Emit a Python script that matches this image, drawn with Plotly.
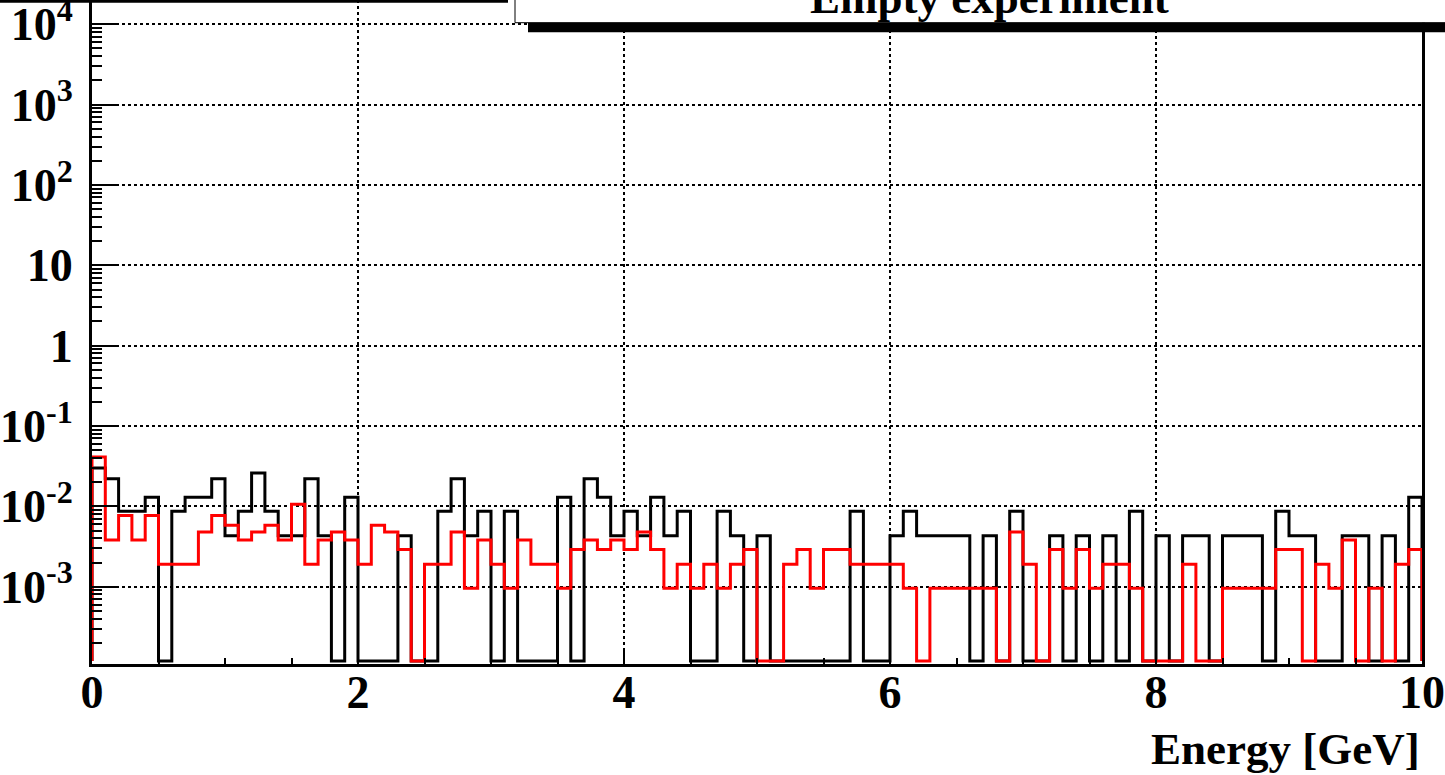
import numpy as np
import plotly.graph_objects as go

# ---------------- data ----------------
x_min, x_max, n_bins = 0.0, 10.0, 100

black_vals = [
    0.030, 0.022, 0.0087, 0.0087, 0.013, 0, 0.0087, 0.013, 0.013, 0.022,
    0.0043, 0.0087, 0.026, 0.0087, 0.0043, 0.0043, 0.022, 0.0043, 0, 0.013,
    0, 0, 0, 0.0043, 0, 0, 0.0087, 0.022, 0.0043, 0.0087,
    0, 0.0087, 0, 0, 0, 0.013, 0, 0.022, 0.013, 0.0043,
    0.0087, 0.0043, 0.013, 0.0043, 0.0087, 0, 0, 0.0087, 0.0043, 0,
    0.0043, 0, 0, 0, 0, 0, 0, 0.0087, 0, 0,
    0.0043, 0.0087, 0.0043, 0.0043, 0.0043, 0.0043, 0, 0.0043, 0, 0.0087,
    0, 0, 0.0043, 0, 0.0043, 0, 0.0043, 0, 0.0087, 0,
    0.0043, 0, 0.0043, 0.0043, 0, 0.0043, 0.0043, 0.0043, 0, 0.0087,
    0.0043, 0.0043, 0, 0, 0.0043, 0.0043, 0, 0.0043, 0, 0.013,
]

red_vals = [
    0.041, 0.0038, 0.0077, 0.0038, 0.0077, 0.0019, 0.0019, 0.0019, 0.0048, 0.0077,
    0.0058, 0.0038, 0.0048, 0.0058, 0.0038, 0.0106, 0.0019, 0.0038, 0.0048, 0.0038,
    0.0019, 0.0058, 0.0048, 0.0029, 0, 0.0019, 0.0019, 0.0048, 0.00096, 0.0038,
    0.0019, 0.00096, 0.0038, 0.0019, 0.0019, 0.00096, 0.0029, 0.0038, 0.0029, 0.0038,
    0.0029, 0.0048, 0.0029, 0.00096, 0.0019, 0.00096, 0.0019, 0.00096, 0.0019, 0.0029,
    0, 0, 0.0019, 0.0029, 0.00096, 0.0029, 0.0029, 0.0019, 0.0019, 0.0019,
    0.0019, 0.00096, 0, 0.00096, 0.00096, 0.00096, 0.00096, 0.00096, 0, 0.0048,
    0.0019, 0, 0.0029, 0.00096, 0.0029, 0.00096, 0.0019, 0.0019, 0.00096, 0,
    0, 0, 0.0019, 0, 0, 0.00096, 0.00096, 0.00096, 0.00096, 0.0029,
    0.0029, 0, 0.0019, 0.00096, 0.0038, 0, 0.00096, 0, 0.0019, 0.0029,
]

x_tick_vals = [0, 2, 4, 6, 8, 10]
x_tick_text = ["0", "2", "4", "6", "8", "10"]
y_tick_vals = [1e-3, 1e-2, 1e-1, 1, 10, 100, 1e3, 1e4]
y_tick_text = ["10<sup>-3</sup>", "10<sup>-2</sup>", "10<sup>-1</sup>", "1", "10",
               "10<sup>2</sup>", "10<sup>3</sup>", "10<sup>4</sup>"]

title_text = "Empty experiment"
x_title = "Energy [GeV]"

# ---------------- layout geometry ----------------
W, H = 1445, 775
ML, MR, MT, MB = 92, 23, 0, 111
PW, PH = W - ML - MR, H - MT - MB
y_log_min, y_log_max = -3.962, 4.302
floor_val = 10 ** (y_log_min + 0.037)

edges = np.linspace(x_min, x_max, n_bins + 1)


def step_xy(vals):
    v = [val if val > 0 else floor_val for val in vals]
    xs = [edges[0]] + list(edges[:-1]) + [edges[-1], edges[-1]]
    ys = [floor_val] + v + [v[-1], floor_val]
    return xs, ys


FONT = "Liberation Serif, Times New Roman, serif"

fig = go.Figure()
for vals, col in [(black_vals, "black"), (red_vals, "#ff0000")]:
    xs, ys = step_xy(vals)
    fig.add_trace(go.Scatter(x=xs, y=ys, mode="lines", line_shape="hv",
                             line=dict(color=col, width=3), showlegend=False,
                             hoverinfo="skip"))


def px2px(px):
    return (px - ML) / PW


def py2py(py):
    return (H - MB - py) / PH


shapes = [
    # strip at top-left
    dict(type="rect", xref="paper", yref="paper", x0=px2px(-5), x1=px2px(508),
         y0=py2py(2.7), y1=py2py(-5), fillcolor="black", line=dict(width=0), layer="above"),
    # title box
    dict(type="rect", xref="paper", yref="paper", x0=px2px(515), x1=px2px(1460),
         y0=py2py(22.7), y1=py2py(-60), fillcolor="white",
         line=dict(color="black", width=1), layer="above"),
    # title shadow
    dict(type="rect", xref="paper", yref="paper", x0=px2px(528), x1=px2px(1460),
         y0=py2py(32.3), y1=py2py(22.7), fillcolor="black", line=dict(width=0), layer="above"),
]

annotations = [
    dict(text=title_text, xref="paper", yref="paper", x=px2px(989), y=py2py(-2),
         xanchor="center", yanchor="middle", showarrow=False,
         font=dict(family=FONT, size=45, color="black", weight="bold")),
    dict(text=x_title, xref="paper", yref="paper", x=1.0, y=py2py(749),
         xanchor="right", yanchor="middle", showarrow=False,
         font=dict(family=FONT, size=45, color="black", weight="bold")),
]

fig.update_layout(
    width=W, height=H, autosize=False,
    margin=dict(l=ML, r=MR, t=MT, b=MB, pad=0, autoexpand=False),
    paper_bgcolor="white", plot_bgcolor="white",
    shapes=shapes, annotations=annotations,
    xaxis=dict(range=[x_min, x_max], showline=True, linecolor="black", linewidth=3,
               mirror=False, ticks="inside", ticklen=15, tickwidth=2, tickcolor="black",
               tickvals=x_tick_vals, ticktext=x_tick_text, automargin=False,
               tickfont=dict(family=FONT, size=46, color="black", weight="bold"),
               ticklabelstandoff=-14, ticklabeloverflow="allow",
               showgrid=True, gridcolor="black", gridwidth=1.5, griddash="dot",
               zeroline=False,
               minor=dict(ticks="inside", ticklen=6, tickwidth=2, tickcolor="black",
                          dtick=0.5, showgrid=False)),
    yaxis=dict(type="log", range=[y_log_min, y_log_max], showline=True, linecolor="black",
               linewidth=3, mirror=True, ticks="inside", ticklen=25, tickwidth=2,
               tickcolor="black", tickvals=y_tick_vals, ticktext=y_tick_text,
               automargin=False,
               tickfont=dict(family=FONT, size=46, color="black", weight="bold"),
               ticklabelstandoff=7, ticklabeloverflow="allow",
               showgrid=True, gridcolor="black", gridwidth=1.5, griddash="dot",
               zeroline=False,
               minor=dict(ticks="inside", ticklen=10, tickwidth=2, tickcolor="black",
                          dtick="D1", showgrid=False)),
)

fig.write_html("out.html", config={"displayModeBar": False},
               post_script="document.body.style.margin='0px';document.body.style.overflow='hidden';")
